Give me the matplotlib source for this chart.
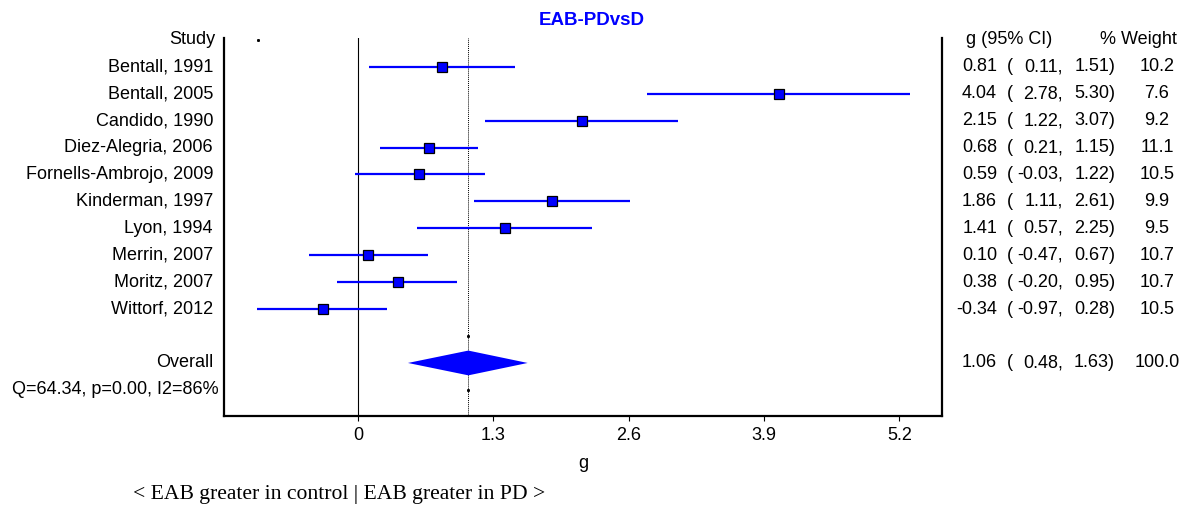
"""Forest plot: EAB-PDvsD."""

import matplotlib
matplotlib.use("Agg")
import matplotlib.pyplot as plt
import matplotlib.transforms as mtransforms

# --- data -------------------------------------------------------------------
studies = [
    "Bentall, 1991", "Bentall, 2005", "Candido, 1990", "Diez-Alegria, 2006",
    "Fornells-Ambrojo, 2009", "Kinderman, 1997", "Lyon, 1994", "Merrin, 2007",
    "Moritz, 2007", "Wittorf, 2012",
]
g_vals = [0.81, 4.04, 2.15, 0.68, 0.59, 1.86, 1.41, 0.10, 0.38, -0.34]
ci_lo = [0.11, 2.78, 1.22, 0.21, -0.03, 1.11, 0.57, -0.47, -0.20, -0.97]
ci_hi = [1.51, 5.30, 3.07, 1.15, 1.22, 2.61, 2.25, 0.67, 0.95, 0.28]
weights = [10.2, 7.6, 9.2, 11.1, 10.5, 9.9, 9.5, 10.7, 10.7, 10.5]

overall_g = 1.06
overall_lo = 0.48
overall_hi = 1.63
overall_w = 100.0
het_text = "Q=64.34, p=0.00, I2=86%"

xticks = [0, 1.3, 2.6, 3.9, 5.2]
xtick_labels = ["0", "1.3", "2.6", "3.9", "5.2"]

# odd little dots the original program leaves behind
stray_x = [-0.96]
stray_rows = [0]

# --- layout -----------------------------------------------------------------
W, H = 1193, 507
BLUE = "#0000ff"
SANS = ["Liberation Sans", "DejaVu Sans"]
plt.rcParams["font.family"] = SANS

fig = plt.figure(figsize=(W / 100, H / 100), dpi=100)
ax = fig.add_axes([224 / W, 1 - 416 / H, (942 - 224) / W, (416 - 38) / H])

rows = list(range(1, len(studies) + 1))
blank_row = len(studies) + 1
overall_row = blank_row + 1
het_row = overall_row + 1

ax.set_xlim(-1.287, 5.61)
ax.set_ylim(13.97, -0.07)

# reference lines
ax.axvline(0, color="black", lw=0.8, zorder=1)
ax.axvline(overall_g, color="black", lw=0.7, ls=(0, (1, 1)), zorder=1)
ax.plot([overall_g, overall_g], [blank_row, het_row], "s", ms=1.1,
        color="black", zorder=2)
ax.plot(stray_x, stray_rows, "s", ms=1.1, color="black", zorder=2)

# study CIs and points
ax.hlines(rows, ci_lo, ci_hi, color=BLUE, lw=1.6, zorder=3)
ax.plot(g_vals, rows, "s", ms=7.5, mfc=BLUE, mec="black", mew=0.9, zorder=4)

# overall diamond
dh = 0.46
ax.fill([overall_lo, overall_g, overall_hi, overall_g],
        [overall_row, overall_row - dh, overall_row, overall_row + dh],
        color=BLUE, lw=0, zorder=3)

# axes styling
for side in ("left", "right", "bottom"):
    ax.spines[side].set_linewidth(1.6)
ax.spines["top"].set_visible(False)
ax.set_yticks([])
ax.set_xticks(xticks)
ax.set_xticklabels(xtick_labels)
ax.tick_params(axis="x", direction="out", length=3.6, width=0.8,
               labelsize=13, pad=4)
ax.set_xlabel("g", fontsize=13, labelpad=8)

ax.set_title("EAB-PDvsD", color=BLUE, fontsize=13.5, fontweight="bold",
             x=(592 - 224) / (942 - 224), pad=9)

# text columns, x in figure pixels, y in rows
tr = mtransforms.blended_transform_factory(fig.transFigure, ax.transData)


def px(x):
    return x / W


fs = 13
ax.text(px(215), 0, "Study", transform=tr, ha="right", va="center", fontsize=fs)
for r, name in zip(rows, studies):
    ax.text(px(213), r, name, transform=tr, ha="right", va="center", fontsize=fs)
ax.text(px(213), overall_row, "Overall", transform=tr, ha="right",
        va="center", fontsize=fs)
ax.text(px(219), het_row, het_text, transform=tr, ha="right", va="center",
        fontsize=fs)

ax.text(px(966), 0, "g (95% CI)", transform=tr, ha="left", va="center",
        fontsize=fs)
ax.text(px(1100), 0, "% Weight", transform=tr, ha="left", va="center",
        fontsize=fs)


def stat_row(r, g, lo, hi, w):
    ax.text(px(997), r, f"{g:.2f}", transform=tr, ha="right", va="center",
            fontsize=fs)
    ax.text(px(1007), r, "(", transform=tr, ha="left", va="center", fontsize=fs)
    ax.text(px(1063), r, f"{lo:.2f},", transform=tr, ha="right", va="center",
            fontsize=fs)
    ax.text(px(1115), r, f"{hi:.2f})", transform=tr, ha="right", va="center",
            fontsize=fs)
    ax.text(px(1157), r, f"{w:.1f}", transform=tr, ha="center", va="center",
            fontsize=fs)


for r, g, lo, hi, w in zip(rows, g_vals, ci_lo, ci_hi, weights):
    stat_row(r, g, lo, hi, w)
stat_row(overall_row, overall_g, overall_lo, overall_hi, overall_w)

fig.text(px(133), 1 - 495 / H, "< EAB greater in control | EAB greater in PD >",
         ha="left", va="center", fontsize=15.6,
         family=["Liberation Serif", "DejaVu Serif"])

fig.savefig("out.png", dpi=100)
